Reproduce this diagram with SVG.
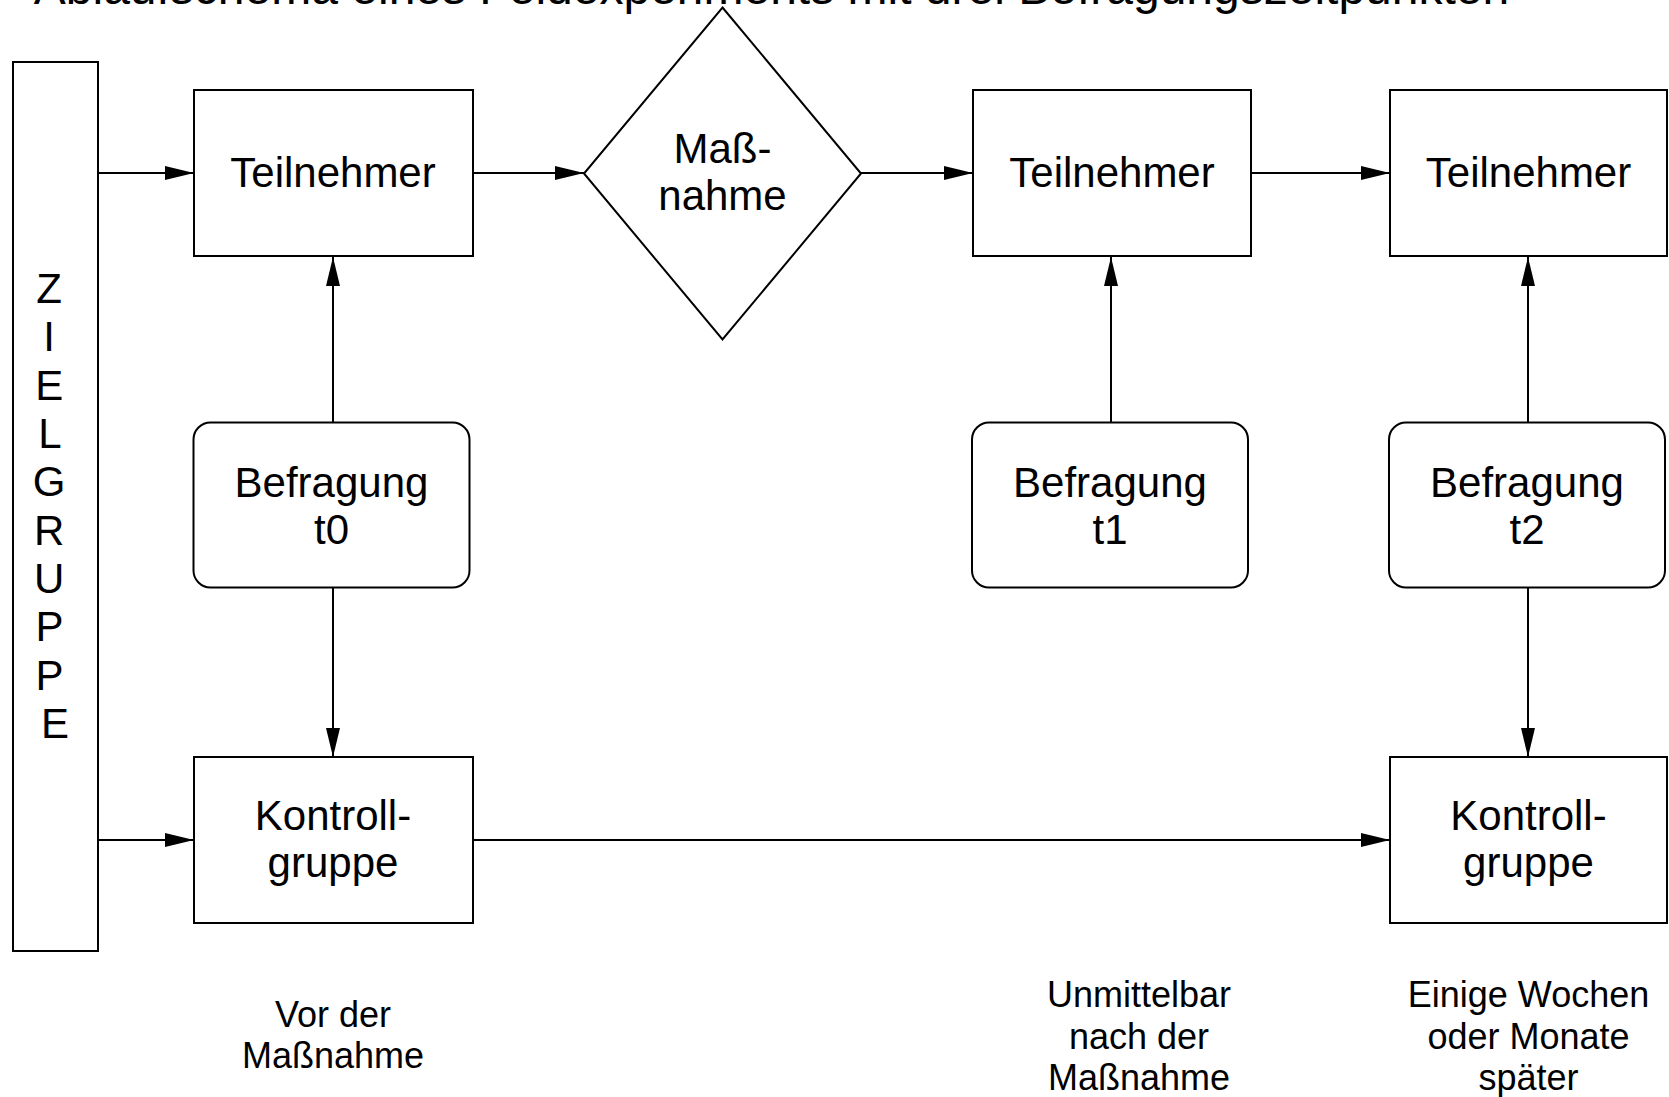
<svg xmlns="http://www.w3.org/2000/svg" width="1669" height="1097" viewBox="0 0 1669 1097">
<style>
  .box { fill: #fff; stroke: #000; stroke-width: 2; }
  .t { font-family: "Liberation Sans", Arial, sans-serif; fill: #000; text-anchor: middle; }
  .big { font-size: 42px; }
  .small { font-size: 36px; }
  .title { font-size: 48px; }
  .conn line { stroke: #000; stroke-width: 2; marker-end: url(#arr); }
</style>
<defs>
  <marker id="arr" markerUnits="userSpaceOnUse" markerWidth="30" markerHeight="16" refX="29" refY="7" orient="auto">
    <path d="M0,0 L29,7 L0,14 z" fill="#000"/>
  </marker>
</defs>
<rect width="1669" height="1097" fill="#fff"/>
<text class="t title" x="771.5" y="4">Ablaufschema eines Feldexperiments mit drei Befragungszeitpunkten</text>

<g id="connectors" class="conn">
  <line x1="98" y1="173" x2="194" y2="173"/>
  <line x1="473" y1="173" x2="584" y2="173"/>
  <line x1="861" y1="173" x2="973" y2="173"/>
  <line x1="1251" y1="173" x2="1390" y2="173"/>
  <line x1="333" y1="423" x2="333" y2="257"/>
  <line x1="333" y1="588" x2="333" y2="757"/>
  <line x1="1111" y1="423" x2="1111" y2="257"/>
  <line x1="1528" y1="423" x2="1528" y2="257"/>
  <line x1="1528" y1="588" x2="1528" y2="757"/>
  <line x1="98" y1="840" x2="194" y2="840"/>
  <line x1="473" y1="840" x2="1390" y2="840"/>
</g>

<g id="zielgruppe">
  <rect class="box" x="13" y="62" width="85" height="889"/>
  <text class="t big" x="55">
    <tspan x="55" y="303">Z</tspan>
    <tspan x="55" y="351">I</tspan>
    <tspan x="55" y="400">E</tspan>
    <tspan x="55" y="448">L</tspan>
    <tspan x="55" y="496">G</tspan>
    <tspan x="55" y="545">R</tspan>
    <tspan x="55" y="593">U</tspan>
    <tspan x="55" y="641">P</tspan>
    <tspan x="55" y="690">P</tspan>
    <tspan x="55" y="738">E</tspan>
  </text>
</g>

<g id="teilnehmer1">
  <rect class="box" x="194" y="90" width="279" height="166"/>
  <text class="t big" x="333" y="187">Teilnehmer</text>
</g>
<g id="massnahme">
  <polygon class="box" points="722.5,7.5 861,173.5 722.5,339.5 584,173.5"/>
  <text class="t big" x="722.5" y="163">Maß-</text>
  <text class="t big" x="722.5" y="210">nahme</text>
</g>
<g id="teilnehmer2">
  <rect class="box" x="973" y="90" width="278" height="166"/>
  <text class="t big" x="1112" y="187">Teilnehmer</text>
</g>
<g id="teilnehmer3">
  <rect class="box" x="1390" y="90" width="277" height="166"/>
  <text class="t big" x="1528.5" y="187">Teilnehmer</text>
</g>

<g id="befragung-t0">
  <rect class="box" x="193.5" y="422.5" width="276" height="165" rx="17"/>
  <text class="t big" x="331.5" y="497">Befragung</text>
  <text class="t big" x="331.5" y="544">t0</text>
</g>
<g id="befragung-t1">
  <rect class="box" x="972" y="422.5" width="276" height="165" rx="17"/>
  <text class="t big" x="1110" y="497">Befragung</text>
  <text class="t big" x="1110" y="544">t1</text>
</g>
<g id="befragung-t2">
  <rect class="box" x="1389" y="422.5" width="276" height="165" rx="17"/>
  <text class="t big" x="1527" y="497">Befragung</text>
  <text class="t big" x="1527" y="544">t2</text>
</g>

<g id="kontrollgruppe1">
  <rect class="box" x="194" y="757" width="279" height="166"/>
  <text class="t big" x="333" y="830">Kontroll-</text>
  <text class="t big" x="333" y="877">gruppe</text>
</g>
<g id="kontrollgruppe2">
  <rect class="box" x="1390" y="757" width="277" height="166"/>
  <text class="t big" x="1528.5" y="830">Kontroll-</text>
  <text class="t big" x="1528.5" y="877">gruppe</text>
</g>

<g id="label-vor">
  <text class="t small" x="333" y="1027">Vor der</text>
  <text class="t small" x="333" y="1068">Maßnahme</text>
</g>
<g id="label-unmittelbar">
  <text class="t small" x="1139" y="1007">Unmittelbar</text>
  <text class="t small" x="1139" y="1049">nach der</text>
  <text class="t small" x="1139" y="1090">Maßnahme</text>
</g>
<g id="label-spaeter">
  <text class="t small" x="1528.5" y="1007">Einige Wochen</text>
  <text class="t small" x="1528.5" y="1049">oder Monate</text>
  <text class="t small" x="1528.5" y="1090">später</text>
</g>
</svg>
